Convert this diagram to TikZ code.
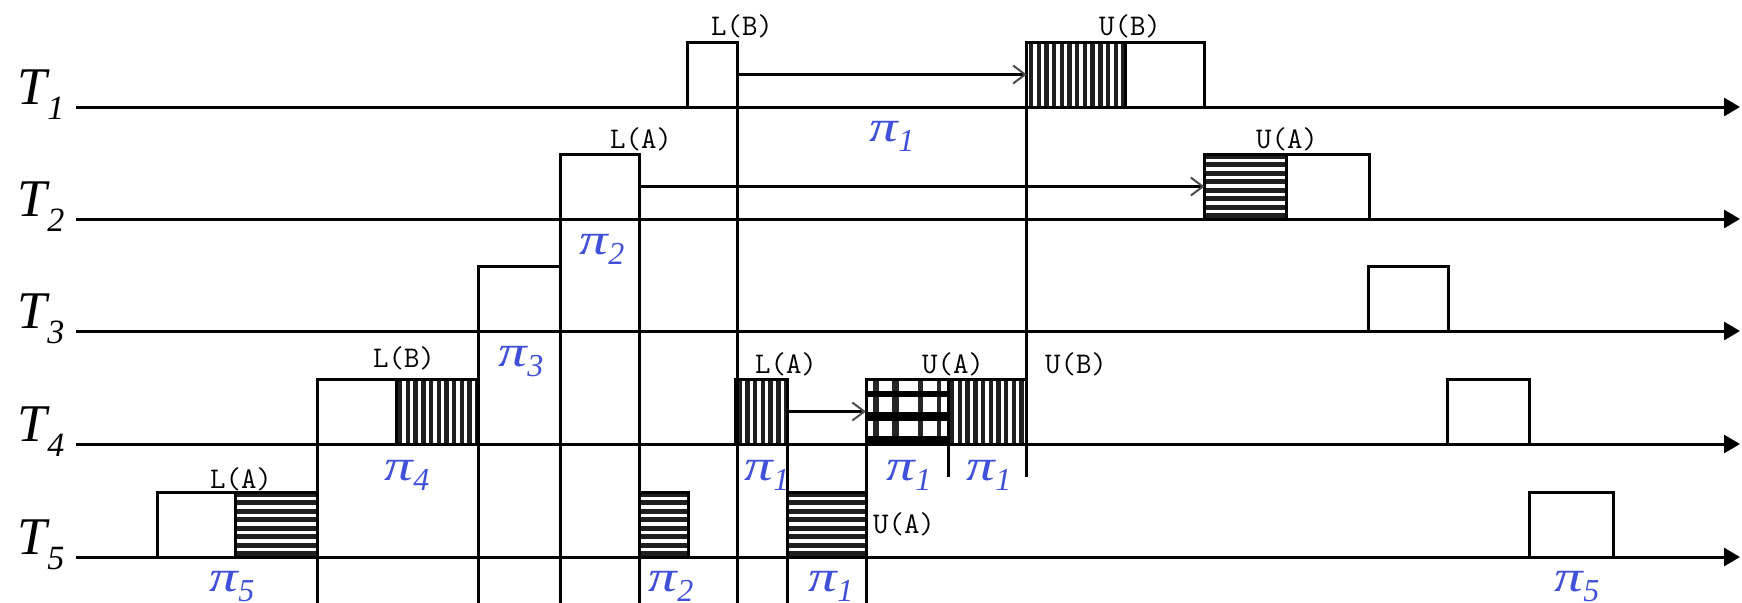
\documentclass[tikz,border=0pt]{standalone}
\usepackage{fontspec}
\setmainfont{Liberation Serif}
\usetikzlibrary{arrows.meta}
\definecolor{piblue}{RGB}{64,80,216}
% proc label: big italic T with a low subscript
\newcommand{\proclabel}[3]{%
  \node[anchor=base west, inner sep=0pt, font=\fontsize{26.5}{26.5}\selectfont\itshape] (#1) at (17,#2) {T};
  \node[anchor=base west, inner sep=0pt, font=\fontsize{17}{17}\selectfont\itshape] (#1s) at (47,#2+15) {#3};}
% pi label centred at x, baseline y
\newcommand{\pilabel}[4]{%
  \node[pilab] (#1) at (#2,#3) {\scalebox{1.3}[1]{π}\raisebox{-5pt}{\fontsize{16}{16}\selectfont #4}};}
\begin{document}
\begin{tikzpicture}[x=0.5pt,y=-0.5pt,
  axis/.style={line width=1.5pt, -{Triangle[length=8pt,width=9pt]}},
  slot/.style={draw, line width=1.5pt, inner sep=0pt, outer sep=0pt,
               anchor=south west, minimum height=32.5pt, fill=white},
  plain/.style={slot},
  vhatch/.style={slot, path picture={
      \foreach \k in {0,...,14}
        \fill[black!88] ([xshift=\k*3.85pt+1.0pt]path picture bounding box.south west)
          rectangle ++(2.2pt,34pt);}},
  hhatch/.style={slot, path picture={
      \foreach \k in {0,...,7}
        \fill[black!88] ([yshift=\k*4.25pt+0.4pt]path picture bounding box.south west)
          rectangle ++(50pt,2.6pt);}},
  vline/.style={line width=1.5pt},
  msg/.style={line width=1.2pt, -{Straight Barb[length=6pt,width=9pt,line width=1pt,color=black!70]}},
  lock/.style={anchor=base, inner sep=0pt, font=\ttfamily\fontsize{15}{15}\selectfont},
  pilab/.style={anchor=base, inner sep=0pt, text=piblue, font=\fontsize{22}{22}\selectfont\itshape},
]
\useasboundingbox (0,0) rectangle (1742,602);
\coordinate (bot) at (0,606);
\coordinate (stub) at (0,477);

% time axes
\foreach \n/\y in {1/107,2/219,3/331,4/444,5/557}{
  \coordinate (a\n) at (76,\y);
  \coordinate (e\n) at (1740,\y);
  \draw[axis] (a\n) -- (e\n);
}

% process names
\proclabel{p1}{104}{1}
\proclabel{p2}{216}{2}
\proclabel{p3}{328}{3}
\proclabel{p4}{441}{4}
\proclabel{p5}{554}{5}

% T1 slots
\node[plain,  minimum width=24.75pt] (t1a) at (687.5,107) {};
\node[vhatch, minimum width=49.1pt]  (t1b) at (1026.8,107) {};
\node[plain,  minimum width=39.75pt] (t1c) at (1125,107) {};
% T2 slots
\node[plain,  minimum width=39.2pt]  (t2a) at (560.6,219) {};
\node[hhatch, minimum width=40.75pt] (t2b) at (1204.5,219) {};
\node[plain,  minimum width=41.5pt]  (t2c) at (1286,219) {};
% T3 slots
\node[plain,  minimum width=41.3pt]  (t3a) at (478,331) {};
\node[plain,  minimum width=40pt]    (t3b) at (1368,331) {};
% T4 slots
\node[plain,  minimum width=39.2pt]  (t4a) at (317.6,444) {};
\node[vhatch, minimum width=40.8pt]  (t4b) at (396,444) {};
\node[vhatch, minimum width=25.7pt]  (t4c) at (735.6,444) {};
\node[plain,  minimum width=41pt]    (t4d) at (866,444) {};
\node[vhatch, minimum width=39.25pt] (t4e) at (948,444) {};
\node[plain,  minimum width=41pt]    (t4f) at (1447.5,444) {};
% grid filling of the shared slot on T4
\begin{scope}[black!85]
  \draw[line width=3pt]   (875.5,379) -- (875.5,444);
  \draw[line width=3.5pt] (895,379) -- (895,444);
  \draw[line width=2.5pt] (920,379) -- (920,444);
  \draw[line width=2pt]   (938.5,379) -- (938.5,444);
\end{scope}
\begin{scope}[black]
  \draw[line width=3pt] (866,394) -- (948,394);
  \draw[line width=4.5pt] (866,416) -- (948,416);
  \draw[line width=3.5pt] (866,439) -- (948,439);
\end{scope}
\draw[line width=1.5pt] (t4d.south west) rectangle (t4d.north east);
% T5 slots
\node[plain,  minimum width=39pt]    (t5a) at (157,557) {};
\node[hhatch, minimum width=41.3pt]  (t5b) at (235,557) {};
\node[hhatch, minimum width=24.5pt]  (t5c) at (639,557) {};
\node[hhatch, minimum width=39.5pt]  (t5d) at (787,557) {};
\node[plain,  minimum width=41.75pt] (t5e) at (1529.5,557) {};

% switch lines
\draw[vline] (t4a.north west) -- (t4a.north west |- bot);
\draw[vline] (t3a.north west) -- (t3a.north west |- bot);
\draw[vline] (t2a.north west) -- (t2a.north west |- bot);
\draw[vline] (t2a.north east) -- (t2a.north east |- bot);
\draw[vline] (t1a.north east) -- (t1a.north east |- bot);
\draw[vline] (t4c.north east) -- (t4c.north east |- bot);
\draw[vline] (t4d.north west) -- (t4d.north west |- bot);
\draw[vline] (t4d.north east) -- (t4d.north east |- stub);
\draw[vline] (t1b.north west) -- (t1b.north west |- stub);

% waiting arrows
\draw[msg] (t1a.east) -- (t1b.west);
\draw[msg] (t2a.east) -- (t2b.west);
\draw[msg] (t4c.east) -- (t4d.west);

% lock / unlock labels
\node[lock] (l1) at (742,35)   {L(B)};
\node[lock] (u1) at (1130,35)  {U(B)};
\node[lock] (l2) at (641,148)  {L(A)};
\node[lock] (u2) at (1287,148) {U(A)};
\node[lock] (l4a) at (404,367) {L(B)};
\node[lock] (l4b) at (786,373) {L(A)};
\node[lock] (u4a) at (953,373) {U(A)};
\node[lock] (u4b) at (1076,373) {U(B)};
\node[lock] (l5) at (241,488)  {L(A)};
\node[lock] (u5) at (904,533)  {U(A)};

% processor labels
\pilabel{q1}{892}{141}{1}
\pilabel{q2}{602}{254}{2}
\pilabel{q3}{521}{366}{3}
\pilabel{q4}{407}{480}{4}
\pilabel{q5}{767}{480}{1}
\pilabel{q6}{909}{480}{1}
\pilabel{q7}{989}{480}{1}
\pilabel{q8}{232}{591}{5}
\pilabel{q9}{671}{591}{2}
\pilabel{q10}{831}{591}{1}
\pilabel{q11}{1577}{591}{5}
\end{tikzpicture}
\end{document}
